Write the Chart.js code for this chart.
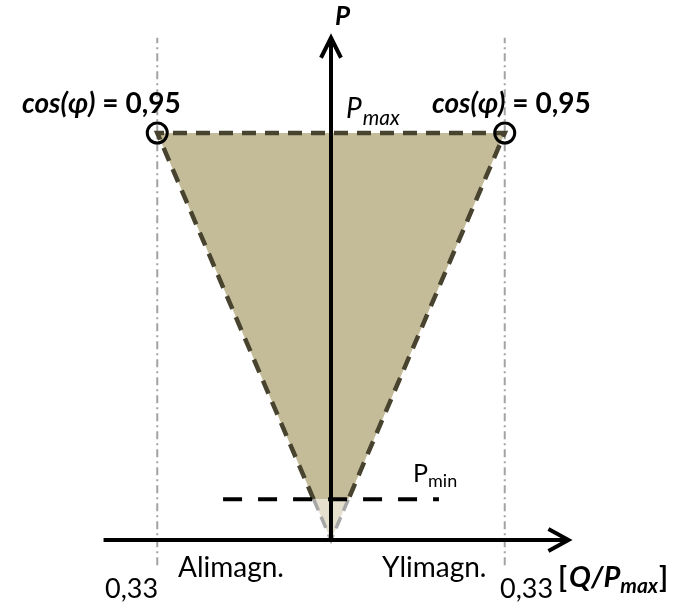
<!DOCTYPE html>
<html>
<head>
<meta charset="utf-8">
<script src="https://cdn.jsdelivr.net/npm/chart.js@4.4.0/dist/chart.umd.min.js"></script>
<style>
  body { margin: 0; background: #fff; }
  canvas { display: block; }
</style>
</head>
<body>
<canvas id="pq" width="679" height="605"></canvas>
<script>
// Q/Pmax limit at cos(phi) = 0,95, and the active power levels
const qLimit = 0.33;
const pMax = 1;
const pMin = 0.1;
const qAxisRange = [-0.432, 0.451];
const pAxisRange = [0, 1.234];
const guideRange = [-0.062, 1.234];
const pMinLineRange = [-0.205, 0.205];

// Q where the triangle sides cross the Pmin level
const qAtPmin = qLimit * pMin / pMax;

const FONT = 'Lato, "Noto Sans", sans-serif';

function line(points, opts) {
  return Object.assign({
    data: points,
    showLine: true,
    pointRadius: 0,
    borderWidth: 4,
    fill: false,
    clip: false,
    tension: 0
  }, opts);
}

const datasets = [
  // shaded area above Pmin
  line([
    { x: -qLimit, y: pMax }, { x: qLimit, y: pMax },
    { x: qAtPmin, y: pMin }, { x: -qAtPmin, y: pMin }, { x: -qLimit, y: pMax }
  ], { borderWidth: 0, borderColor: 'rgba(0,0,0,0)', backgroundColor: '#c4bc99', fill: 'shape', order: 10 }),
  // pale area below Pmin
  line([
    { x: -qAtPmin, y: pMin }, { x: qAtPmin, y: pMin }, { x: 0, y: 0 }, { x: -qAtPmin, y: pMin }
  ], { borderWidth: 0, borderColor: 'rgba(0,0,0,0)', backgroundColor: '#e4e0cd', fill: 'shape', order: 9 }),
  // dash-dot guides at +-0,33
  line([{ x: -qLimit, y: guideRange[0] }, { x: -qLimit, y: guideRange[1] }],
    { borderWidth: 2, borderColor: '#a3a3a3', borderDash: [8, 4, 2, 4], order: 8 }),
  line([{ x: qLimit, y: guideRange[0] }, { x: qLimit, y: guideRange[1] }],
    { borderWidth: 2, borderColor: '#a3a3a3', borderDash: [8, 4, 2, 4], order: 8 }),
  // triangle outline above Pmin
  line([
    { x: -qAtPmin, y: pMin }, { x: -qLimit, y: pMax }, { x: qLimit, y: pMax }, { x: qAtPmin, y: pMin }
  ], { borderWidth: 4.5, borderColor: '#48432e', borderDash: [14, 9], order: 6 }),
  // grey continuation down to the origin
  line([{ x: -qAtPmin, y: pMin }, { x: 0, y: 0 }, { x: qAtPmin, y: pMin }],
    { borderWidth: 3.5, borderColor: '#a6a6a6', borderDash: [12, 7], order: 5 }),
  // axes
  line([{ x: 0, y: pAxisRange[0] }, { x: 0, y: pAxisRange[1] }], { borderColor: '#000', order: 3 }),
  line([{ x: qAxisRange[0], y: 0 }, { x: qAxisRange[1], y: 0 }], { borderColor: '#000', order: 3 }),
  // Pmin level
  line([{ x: pMinLineRange[0], y: pMin }, { x: pMinLineRange[1], y: pMin }],
    { borderColor: '#000', borderDash: [19, 16], order: 2 }),
  // cos(phi) = 0,95 corners
  {
    data: [{ x: -qLimit, y: pMax }, { x: qLimit, y: pMax }],
    showLine: false,
    pointRadius: 10,
    pointBorderWidth: 3,
    pointBorderColor: '#000',
    pointBackgroundColor: 'rgba(0,0,0,0)',
    clip: false,
    order: 1
  }
];

function runs(ctx, x, y, parts) {
  ctx.textBaseline = 'alphabetic';
  ctx.textAlign = 'left';
  parts.forEach(p => {
    ctx.font = p.font;
    ctx.fillText(p.t, x, y + (p.dy || 0));
    x += ctx.measureText(p.t).width + (p.gap || 0);
  });
}

const annotations = {
  id: 'annotations',
  afterDatasetsDraw(chart) {
    const ctx = chart.ctx;
    const xs = chart.scales.x;
    const ys = chart.scales.y;
    ctx.save();

    // arrow heads
    ctx.strokeStyle = '#000';
    ctx.lineWidth = 4;
    ctx.lineJoin = 'miter';
    const tipX = xs.getPixelForValue(0);
    const tipY = ys.getPixelForValue(pAxisRange[1]);
    ctx.beginPath();
    ctx.moveTo(tipX - 10, tipY + 20);
    ctx.lineTo(tipX, tipY);
    ctx.lineTo(tipX + 10, tipY + 20);
    ctx.stroke();
    const endX = xs.getPixelForValue(qAxisRange[1]);
    const endY = ys.getPixelForValue(0);
    ctx.beginPath();
    ctx.moveTo(endX - 20, endY - 11);
    ctx.lineTo(endX, endY);
    ctx.lineTo(endX - 20, endY + 11);
    ctx.stroke();

    ctx.fillStyle = '#000';
    const bi = 'italic bold 28px ' + FONT;
    const b = 'bold 28px ' + FONT;
    runs(ctx, 335, 25, [{ t: 'P', font: 'italic bold 26px ' + FONT }]);
    runs(ctx, 22, 113, [{ t: 'cos(φ)', font: bi }, { t: ' = 0,95', font: b }]);
    runs(ctx, 432, 113, [{ t: 'cos(φ)', font: bi }, { t: ' = 0,95', font: b }]);
    runs(ctx, 346, 118, [
      { t: 'P', font: 'italic 28px ' + FONT, gap: 1 },
      { t: 'max', font: 'italic 21px ' + FONT, dy: 7 }
    ]);
    runs(ctx, 413, 482, [
      { t: 'P', font: '25px ' + FONT },
      { t: 'min', font: '18px ' + FONT, dy: 5 }
    ]);
    const r = '28px ' + FONT;
    runs(ctx, 105, 598, [{ t: '0,33', font: '27px ' + FONT }]);
    runs(ctx, 500, 598, [{ t: '0,33', font: '27px ' + FONT }]);
    runs(ctx, 178, 577, [{ t: 'Alimagn.', font: r }]);
    runs(ctx, 382, 577, [{ t: 'Ylimagn.', font: r }]);
    runs(ctx, 558, 587, [
      { t: '[', font: 'bold 29px ' + FONT, gap: 2 },
      { t: 'Q/P', font: 'italic bold 29px ' + FONT },
      { t: 'max', font: 'italic bold 21px ' + FONT, dy: 6, gap: 1 },
      { t: ']', font: 'bold 29px ' + FONT }
    ]);
    ctx.restore();
  }
};

new Chart(document.getElementById('pq'), {
  type: 'scatter',
  data: { datasets },
  options: {
    responsive: false,
    animation: false,
    layout: { padding: 0, autoPadding: false },
    scales: {
      x: { type: 'linear', display: false, min: -0.6287, max: 0.661 },
      y: { type: 'linear', display: false, min: -0.1597, max: 1.3268 }
    },
    plugins: {
      legend: { display: false },
      tooltip: { enabled: false }
    }
  },
  plugins: [annotations]
});
</script>
</body>
</html>
